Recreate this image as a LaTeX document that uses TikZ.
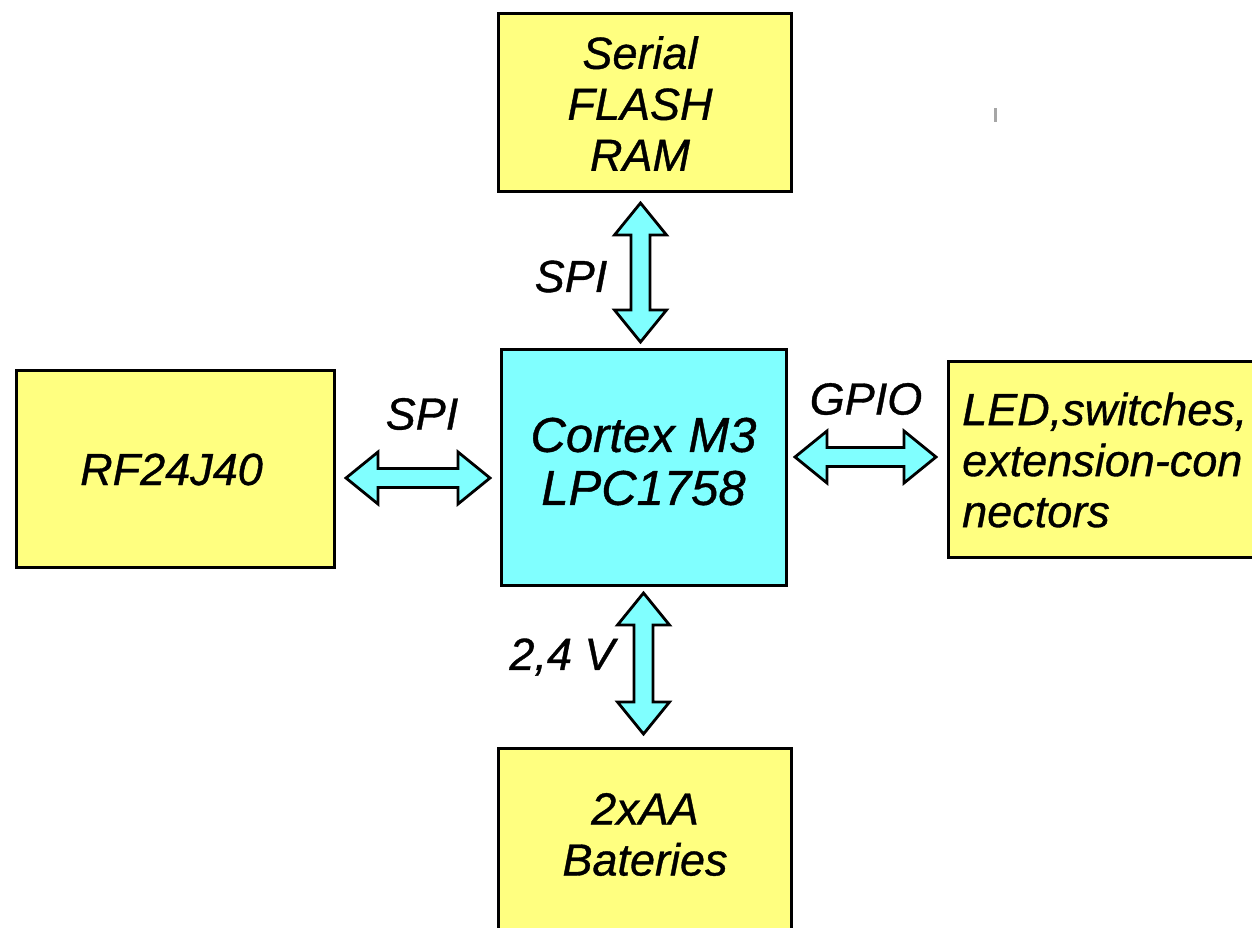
\documentclass[tikz,border=0pt]{standalone}
\usepackage{fontspec}
\setmainfont{Liberation Sans}[FakeBold=0.8]
\usetikzlibrary{calc}
\definecolor{boxyellow}{RGB}{255,255,128}
\definecolor{chipcyan}{RGB}{128,255,255}
\newcommand\BlockArrow[2]{%
  \draw[barrow] (#1)
   -- ($(#1)!32pt!(#2)!26pt!90:(#2)$)
   -- ($(#1)!32pt!(#2)!9.5pt!90:(#2)$)
   -- ($(#2)!32pt!(#1)!9.5pt!-90:(#1)$)
   -- ($(#2)!32pt!(#1)!26pt!-90:(#1)$)
   -- (#2)
   -- ($(#2)!32pt!(#1)!26pt!90:(#1)$)
   -- ($(#2)!32pt!(#1)!9.5pt!90:(#1)$)
   -- ($(#1)!32pt!(#2)!9.5pt!-90:(#2)$)
   -- ($(#1)!32pt!(#2)!26pt!-90:(#2)$)
   -- cycle;}
\begin{document}
\begin{tikzpicture}[x=1pt,y=-1pt,
  ybox/.style={draw=black, line width=3pt, fill=boxyellow, rectangle, inner sep=0pt},
  cbox/.style={draw=black, line width=3pt, fill=chipcyan, rectangle, inner sep=0pt},
  txt/.style={inner sep=0pt, align=center, font=\fontsize{45}{51}\selectfont\itshape},
  bigtxt/.style={inner sep=0pt, align=center, font=\fontsize{49}{53}\selectfont\itshape},
  barrow/.style={draw=black, line width=2.8pt, fill=chipcyan, line join=miter}]
\fill[white] (0,0) rectangle (1252,927);
\useasboundingbox (0,0) rectangle (1252,927);

% boxes
\node[ybox, minimum width=293pt, minimum height=178pt] (flash) at (645,102.5) {};
\node[txt] (flashtxt) at (640,103.5) {Serial\\FLASH\\RAM};

\node[ybox, minimum width=318pt, minimum height=197pt] (rf) at (175.5,469) {};
\node[txt] (rftxt) at (171.5,469.5) {RF24J40};

\node[cbox, minimum width=285pt, minimum height=236pt] (cpu) at (644,467) {};
\node[bigtxt] (cputxt) at (643.5,461.5) {Cortex M3\\LPC1758};

\node[ybox, minimum width=350pt, minimum height=196pt] (io) at (1123.5,459.5) {};
\node[txt, align=left, anchor=west] (iotxt) at (962,460) {LED,switches,\\extension-con\\nectors};

\node[ybox, minimum width=293pt, minimum height=210pt] (bat) at (645,853.5) {};
\node[txt] (battxt) at (645,834.5) {2xAA\\Bateries};

% connector end points
\coordinate (t1) at ($(flash.south)+(-4.5,10)$);
\coordinate (t2) at ($(cpu.north)+(-3.5,-5.5)$);
\coordinate (l1) at ($(rf.east)+(10,9)$);
\coordinate (l2) at ($(cpu.west)+(-10,11)$);
\coordinate (r1) at ($(cpu.east)+(7,-10)$);
\coordinate (r2) at ($(io.west)+(-11,-2.5)$);
\coordinate (b1) at ($(cpu.south)+(-0.5,6.5)$);
\coordinate (b2) at ($(bat.north)+(-1.5,-13)$);

\BlockArrow{t1}{t2}
\BlockArrow{l1}{l2}
\BlockArrow{r1}{r2}
\BlockArrow{b1}{b2}

% labels
\node[txt] (spitop) at (571,276.5) {SPI};
\node[txt] (spileft) at (422,414) {SPI};
\node[txt] (gpio) at (866,399) {GPIO};
\node[txt] (volt) at (562,657) {2,4 V};

% stray mark
\draw[gray!70, line width=2.5pt] (995.5,108) -- (995.5,122);
\end{tikzpicture}
\end{document}
